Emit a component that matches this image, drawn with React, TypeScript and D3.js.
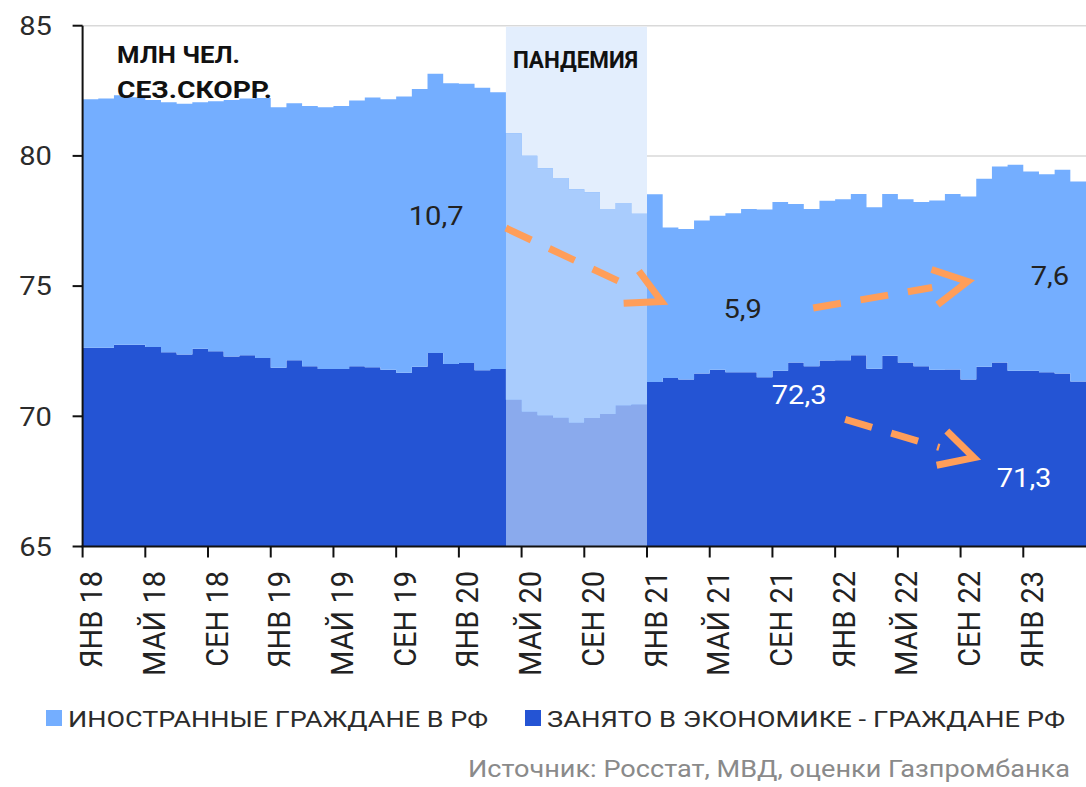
import React, { useEffect, useRef } from "react";
import * as d3 from "d3";

// млн чел., сез.скорр., помесячно: янв 2018 – апр 2023
const citizens = [
  72.63, 72.63, 72.75, 72.75, 72.66, 72.46, 72.37, 72.59, 72.5, 72.3, 72.34, 72.24,
  71.86, 72.15, 71.92, 71.82, 71.82, 71.92, 71.88, 71.79, 71.67, 71.9, 72.43, 72.01,
  72.05, 71.77, 71.82, 70.64, 70.17, 70.03, 69.94, 69.75, 69.93, 70.09, 70.41, 70.45,
  71.32, 71.47, 71.41, 71.64, 71.79, 71.69, 71.69, 71.5, 71.75, 72.07, 71.92, 72.14,
  72.15, 72.34, 71.83, 72.33, 72.07, 71.92, 71.79, 71.8, 71.41, 71.9, 72.07, 71.75,
  71.75, 71.69, 71.64, 71.34,
];
const foreign = [
  9.55, 9.57, 9.58, 9.5, 9.49, 9.6, 9.63, 9.47, 9.6, 9.85, 9.86, 9.98,
  10.01, 9.87, 10.0, 10.05, 10.1, 10.21, 10.36, 10.39, 10.61, 10.67, 10.72, 10.78,
  10.72, 10.85, 10.62, 10.23, 9.84, 9.5, 9.21, 8.97, 8.67, 7.87, 7.78, 7.33,
  7.21, 5.78, 5.78, 5.88, 5.91, 6.11, 6.27, 6.44, 6.48, 6.08, 6.04, 6.14,
  6.19, 6.2, 6.2, 6.21, 6.27, 6.31, 6.5, 6.74, 7.03, 7.22, 7.52, 7.91,
  7.65, 7.61, 7.83, 7.68,
];
const tickLabels = [
  "ЯНВ 18", "МАЙ 18", "СЕН 18", "ЯНВ 19", "МАЙ 19", "СЕН 19", "ЯНВ 20", "МАЙ 20",
  "СЕН 20", "ЯНВ 21", "МАЙ 21", "СЕН 21", "ЯНВ 22", "МАЙ 22", "СЕН 22", "ЯНВ 23",
];
const tickStep = 4;
const yTicks = [65, 70, 75, 80, 85];
const pandemic = [27, 36]; // апр 2020 – дек 2020

// подписи и стрелки в координатах графика (месяц, млн чел.)
const notes = [
  { text: "10,7", m: 24.3, v: 77.36, anchor: "end", fill: "#222" },
  { text: "5,9", m: 42.1, v: 73.79, anchor: "middle", fill: "#222" },
  { text: "7,6", m: 61.7, v: 75.06, anchor: "middle", fill: "#222" },
  { text: "72,3", m: 45.7, v: 70.48, anchor: "middle", fill: "#fff" },
  { text: "71,3", m: 60.05, v: 67.27, anchor: "middle", fill: "#fff" },
];
const arrows = [
  { from: [27.0, 77.23], to: [36.93, 74.41] },
  { from: [46.6, 74.16], to: [56.45, 75.18] },
  { from: [48.64, 69.88], to: [56.85, 68.41] },
];

const C_FOREIGN = "#74aeff";
const C_CITIZENS = "#2454d4";
const C_FOREIGN_P = "#a9ccfd";
const C_CITIZENS_P = "#8aaaed";
const C_BAND = "#e3eefd";
const C_ARROW = "#ff9e5a";
const FONT = "Roboto, 'Noto Sans', sans-serif";

export default function App() {
  const ref = useRef<SVGSVGElement>(null);

  useEffect(() => {
    const svg = d3.select(ref.current);
    svg.selectAll("*").remove();

    const n = citizens.length;
    const x = d3.scaleLinear().domain([0, n]).range([82.6, 1086]);
    const y = d3.scaleLinear().domain([65, 85]).range([546.5, 25.7]);

    const rows: any[] = citizens.map((c, i) => ({ m: i, citizens: c, foreign: foreign[i] }));
    rows.push({ ...rows[n - 1], m: n });
    const series = d3.stack<any>().keys(["citizens", "foreign"])(rows);

    const area = d3.area<any>()
      .curve(d3.curveStepAfter)
      .x((d) => x(d.data.m))
      .y0((d) => y(Math.max(d[0], 65)))
      .y1((d) => y(d[1]));

    // сетка
    svg.append("g").selectAll("line")
      .data(yTicks.filter((t) => t > 65))
      .enter().append("line")
      .attr("x1", x(0)).attr("x2", x(n))
      .attr("y1", (d) => y(d)).attr("y2", (d) => y(d))
      .attr("stroke", "#d9d9d9").attr("stroke-width", 1.5);

    // пандемия
    svg.append("rect")
      .attr("x", x(pandemic[0])).attr("width", x(pandemic[1]) - x(pandemic[0]))
      .attr("y", y(85) + 1).attr("height", y(65) - y(85) - 1)
      .attr("fill", C_BAND);

    const cols = [C_CITIZENS, C_FOREIGN];
    const colsP = [C_CITIZENS_P, C_FOREIGN_P];
    svg.append("g").selectAll("path")
      .data(series).enter().append("path")
      .attr("d", area as any)
      .attr("fill", (_, i) => cols[i]);

    svg.append("clipPath").attr("id", "pclip")
      .append("rect")
      .attr("x", x(pandemic[0])).attr("width", x(pandemic[1]) - x(pandemic[0]))
      .attr("y", 0).attr("height", 787);
    svg.append("g").attr("clip-path", "url(#pclip)").selectAll("path")
      .data(series).enter().append("path")
      .attr("d", area as any)
      .attr("fill", (_, i) => colsP[i]);

    // ось Y
    const yAxis = svg.append("g");
    yAxis.append("line")
      .attr("x1", x(0)).attr("x2", x(0)).attr("y1", y(85)).attr("y2", y(65))
      .attr("stroke", "#111").attr("stroke-width", 2);
    yAxis.selectAll(".yt").data(yTicks).enter().append("line")
      .attr("x1", x(0) - 10).attr("x2", x(0))
      .attr("y1", (d) => y(d)).attr("y2", (d) => y(d))
      .attr("stroke", "#111").attr("stroke-width", 2);
    yAxis.selectAll("text").data(yTicks).enter().append("text")
      .attr("transform", (d) => `translate(52,${y(d)}) scale(1.12,1)`)
      .attr("dy", "0.36em")
      .attr("text-anchor", "end")
      .attr("font-family", FONT).attr("font-size", 26).attr("fill", "#2b2b2b")
      .text((d) => d);

    // ось X
    const xAxis = svg.append("g");
    xAxis.append("line")
      .attr("x1", x(0) - 1).attr("x2", x(n)).attr("y1", y(65)).attr("y2", y(65))
      .attr("stroke", "#111").attr("stroke-width", 2);
    const ticks = tickLabels.map((t, i) => ({ t, m: i * tickStep }));
    xAxis.selectAll(".xt").data(ticks).enter().append("line")
      .attr("x1", (d) => x(d.m)).attr("x2", (d) => x(d.m))
      .attr("y1", y(65)).attr("y2", y(65) + 11)
      .attr("stroke", "#111").attr("stroke-width", 2);
    xAxis.selectAll("text").data(ticks).enter().append("text")
      .attr("transform", (d) => `translate(${x(d.m) + 19.5},571) scale(1.1,1) rotate(-90)`)
      .attr("text-anchor", "end")
      .attr("font-family", FONT).attr("font-size", 29).attr("fill", "#222")
      .text((d) => d.t);

    // заголовки
    const bold = (t: string, px: number, py: number, len: number) =>
      svg.append("text").attr("x", px).attr("y", py)
        .attr("font-family", FONT).attr("font-weight", 700).attr("font-size", 23)
        .attr("fill", "#111")
        .attr("textLength", len).attr("lengthAdjust", "spacingAndGlyphs")
        .text(t);
    bold("МЛН ЧЕЛ.", 117, 63, 123);
    bold("СЕЗ.СКОРР.", 117, 98, 155);
    bold("ПАНДЕМИЯ", 513, 68, 125);

    // стрелки
    arrows.forEach((a) => {
      const sx = x(a.from[0]), sy = y(a.from[1]);
      const tx = x(a.to[0]), ty = y(a.to[1]);
      const L = Math.hypot(tx - sx, ty - sy);
      const ux = (tx - sx) / L, uy = (ty - sy) / L;
      const end = L - 36;
      svg.append("line")
        .attr("x1", sx).attr("y1", sy)
        .attr("x2", sx + ux * end).attr("y2", sy + uy * end)
        .attr("stroke", C_ARROW).attr("stroke-width", 7)
        .attr("stroke-dasharray", "28 20");
      const arm = (ang: number) => {
        const c = Math.cos(ang), s = Math.sin(ang);
        return [tx + 38 * (-ux * c + uy * s), ty + 38 * (-ux * s - uy * c)];
      };
      const a1 = arm((28 * Math.PI) / 180), a2 = arm((-28 * Math.PI) / 180);
      svg.append("polyline")
        .attr("points", `${a1[0]},${a1[1]} ${tx},${ty} ${a2[0]},${a2[1]}`)
        .attr("fill", "none").attr("stroke", C_ARROW).attr("stroke-width", 7)
        .attr("stroke-linejoin", "miter");
    });

    // подписи значений
    svg.selectAll(".note").data(notes).enter().append("text")
      .attr("transform", (d) => `translate(${x(d.m)},${y(d.v)}) scale(1.12,1)`)
      .attr("text-anchor", (d) => d.anchor)
      .attr("font-family", FONT).attr("font-size", 26)
      .attr("fill", (d) => d.fill)
      .text((d) => d.text);

    // легенда
    const legend = [
      { label: "ИНОСТРАННЫЕ ГРАЖДАНЕ В РФ", color: C_FOREIGN, x: 46, len: 420 },
      { label: "ЗАНЯТО В ЭКОНОМИКЕ - ГРАЖДАНЕ РФ", color: C_CITIZENS, x: 525, len: 518 },
    ];
    legend.forEach((l) => {
      svg.append("rect").attr("x", l.x).attr("y", 710).attr("width", 16).attr("height", 16)
        .attr("fill", l.color);
      svg.append("text").attr("x", l.x + 22).attr("y", 727)
        .attr("font-family", FONT).attr("font-size", 22.5).attr("fill", "#2b2b2b")
        .attr("textLength", l.len).attr("lengthAdjust", "spacingAndGlyphs")
        .text(l.label);
    });

    svg.append("text").attr("x", 468).attr("y", 777)
      .attr("font-family", FONT).attr("font-size", 23).attr("fill", "#8a8a8a")
      .attr("textLength", 602).attr("lengthAdjust", "spacingAndGlyphs")
      .text("Источник: Росстат, МВД, оценки Газпромбанка");
  }, []);

  return (
    <div style={{ position: "absolute", left: 0, top: 0 }}>
      <svg ref={ref} width={1086} height={787} style={{ display: "block", background: "#fff" }} />
    </div>
  );
}
